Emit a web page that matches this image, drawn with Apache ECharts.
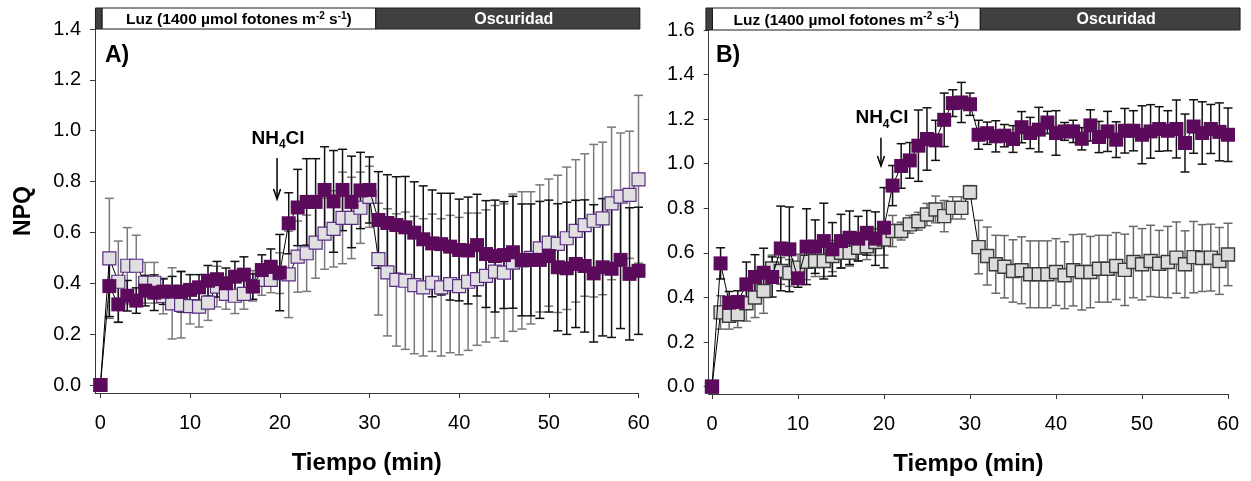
<!DOCTYPE html>
<html>
<head>
<meta charset="utf-8">
<script src="https://cdn.jsdelivr.net/npm/echarts@6/dist/echarts.min.js"></script>
<style>
  html, body { margin: 0; padding: 0; background: #fff; }
  #chart { width: 1251px; height: 481px; }
</style>
</head>
<body>
<div id="chart"></div>
<script>
// Sampling times (min)
const timeMin = [0,1,2,3,4,5,6,7,8,9,10,11,12,13,14,15,16,17,18,19,20,
  21,22,23,24,25,26,27,28,29,30,31,32,33,34,35,36,37,38,39,40,
  41,42,43,44,45,46,47,48,49,50,51,52,53,54,55,56,57,58,59,60];

// Panel A – NPQ (mean) and standard deviation
const npqA_purple = [0, 0.389, 0.317, 0.351, 0.332, 0.371, 0.363, 0.367, 0.367, 0.367, 0.374,
  0.384, 0.41, 0.416, 0.40, 0.426, 0.434, 0.387, 0.452, 0.465, 0.442,
  0.636, 0.698, 0.72, 0.72, 0.767, 0.722, 0.767, 0.72, 0.765, 0.767,
  0.649, 0.637, 0.629, 0.62, 0.599, 0.573, 0.557, 0.554, 0.544, 0.531,
  0.529, 0.55, 0.515, 0.507, 0.511, 0.522, 0.492, 0.492, 0.492, 0.507,
  0.463, 0.459, 0.476, 0.468, 0.439, 0.463, 0.457, 0.492, 0.437, 0.449];
const errA_purple = [0, 0.12, 0.07, 0.06, 0.05, 0.06, 0.07, 0.05, 0.06, 0.08, 0.06,
  0.05, 0.06, 0.07, 0.06, 0.06, 0.07, 0.05, 0.06, 0.07, 0.15,
  0.12, 0.15, 0.17, 0.17, 0.17, 0.2, 0.16, 0.18, 0.15, 0.13,
  0.19, 0.19, 0.19, 0.2, 0.2, 0.21, 0.21, 0.2, 0.21, 0.2,
  0.21, 0.2, 0.21, 0.22, 0.21, 0.22, 0.22, 0.22, 0.23, 0.22,
  0.25, 0.26, 0.25, 0.26, 0.27, 0.27, 0.27, 0.27, 0.26, 0.25];
const npqA_grey = [0, 0.498, 0.406, 0.469, 0.469, 0.402, 0.402, 0.35, 0.321, 0.315, 0.31,
  0.308, 0.324, 0.387, 0.358, 0.351, 0.358, 0.39, 0.413, 0.413, 0.44,
  0.435, 0.505, 0.518, 0.56, 0.595, 0.614, 0.657, 0.657, 0.697, 0.74,
  0.495, 0.443, 0.413, 0.41, 0.393, 0.384, 0.402, 0.384, 0.397, 0.389,
  0.406, 0.416, 0.429, 0.446, 0.442, 0.481, 0.49, 0.5, 0.537, 0.56,
  0.555, 0.577, 0.606, 0.629, 0.646, 0.655, 0.714, 0.741, 0.748, 0.809];
const errA_grey = [0, 0.236, 0.16, 0.15, 0.12, 0.08, 0.08, 0.07, 0.14, 0.13, 0.07,
  0.08, 0.07, 0.08, 0.06, 0.07, 0.06, 0.06, 0.06, 0.05, 0.08,
  0.17, 0.14, 0.15, 0.14, 0.14, 0.15, 0.18, 0.16, 0.14, 0.12,
  0.22, 0.25, 0.26, 0.27, 0.27, 0.27, 0.27, 0.27, 0.27, 0.27,
  0.27, 0.26, 0.26, 0.26, 0.27, 0.27, 0.27, 0.26, 0.25, 0.25,
  0.27, 0.28, 0.28, 0.28, 0.3, 0.3, 0.3, 0.25, 0.25, 0.33];

// Panel B – NPQ (mean) and standard deviation
const npqB_purple = [0, 0.553, 0.377, 0.38, 0.459, 0.492, 0.511, 0.492, 0.62, 0.616, 0.486,
  0.628, 0.628, 0.653, 0.616, 0.653, 0.668, 0.664, 0.69, 0.664, 0.713,
  0.902, 0.99, 1.015, 1.081, 1.111, 1.105, 1.197, 1.272, 1.275, 1.267,
  1.13, 1.137, 1.123, 1.126, 1.111, 1.164, 1.138, 1.153, 1.185, 1.138,
  1.145, 1.145, 1.112, 1.172, 1.12, 1.145, 1.108, 1.148, 1.148, 1.13,
  1.145, 1.156, 1.148, 1.156, 1.093, 1.167, 1.138, 1.156, 1.143, 1.13];
const errB_purple = [0, 0.07, 0.05, 0.05, 0.1, 0.1, 0.11, 0.09, 0.19, 0.19, 0.04,
  0.17, 0.12, 0.17, 0.12, 0.12, 0.12, 0.1, 0.1, 0.12, 0.18,
  0.09, 0.1, 0.08, 0.16, 0.14, 0.09, 0.12, 0.06, 0.09, 0.05,
  0.065, 0.05, 0.07, 0.05, 0.06, 0.07, 0.07, 0.1, 0.05, 0.1,
  0.04, 0.05, 0.05, 0.07, 0.07, 0.09, 0.08, 0.1, 0.09, 0.13,
  0.12, 0.1, 0.09, 0.13, 0.13, 0.12, 0.14, 0.11, 0.13, 0.12];
const npqB_grey = [0, 0.333, 0.318, 0.325, 0.374, 0.40, 0.429, 0.53, 0.519, 0.51, 0.534,
  0.56, 0.564, 0.564, 0.586, 0.601, 0.601, 0.623, 0.63, 0.649, 0.66,
  0.698, 0.698, 0.728, 0.742, 0.772, 0.795, 0.765, 0.802, 0.802, 0.872,
  0.626, 0.586, 0.549, 0.538, 0.519, 0.522, 0.504, 0.504, 0.504, 0.514,
  0.5, 0.522, 0.514, 0.514, 0.529, 0.529, 0.541, 0.524, 0.559, 0.549,
  0.564, 0.551, 0.559, 0.579, 0.549, 0.581, 0.577, 0.579, 0.564, 0.593];
const errB_grey = [0, 0.075, 0.06, 0.06, 0.08, 0.09, 0.1, 0.06, 0.06, 0.06, 0.06,
  0.08, 0.07, 0.07, 0.07, 0.07, 0.06, 0.06, 0.06, 0.06, 0.07,
  0.07, 0.04, 0.04, 0.04, 0.05, 0.06, 0.07, 0.05, 0.05, 0.03,
  0.12, 0.13, 0.13, 0.14, 0.14, 0.15, 0.15, 0.15, 0.15, 0.15,
  0.15, 0.16, 0.17, 0.16, 0.15, 0.15, 0.15, 0.16, 0.16, 0.16,
  0.16, 0.15, 0.16, 0.16, 0.15, 0.16, 0.15, 0.15, 0.15, 0.14];

// Axis ticks
const xTicks = [0, 10, 20, 30, 40, 50, 60];
const yTicksA = [0, 0.2, 0.4, 0.6, 0.8, 1.0, 1.2, 1.4];
const yTicksB = [0, 0.2, 0.4, 0.6, 0.8, 1.0, 1.2, 1.4, 1.6];

// Light / dark periods shown above each panel: [start, end, kind] (min)
const periodsA = [[-0.55, 0.2, 'dark'], [0.2, 30.7, 'light'], [30.7, 60.15, 'dark']];
const periodsB = [[-0.7, 0.06, 'dark'], [0.06, 31.2, 'light'], [31.2, 61.4, 'dark']];

// NH4Cl addition marker: [time, arrow top NPQ, arrow tip NPQ]
const additionA = [19.7, 0.893, 0.731];
const additionB = [19.65, 1.117, 0.99];

const FONT = 'Liberation Sans, Arial, Helvetica, sans-serif';
const PURPLE = '#5c0a5c';
const AXIS = '#3a3a3a';

const chart = echarts.init(document.getElementById('chart'), null, { renderer: 'canvas' });

function pairs(vals) { return timeMin.map((t, i) => [t, vals[i]]); }
function errRows(vals, errs) {
  return timeMin.map((t, i) => [t, vals[i] - errs[i], vals[i] + errs[i]]).filter((r, i) => errs[i] > 0);
}

function errorBarRender(color) {
  return function (params, api) {
    const x = api.value(0), lo = api.value(1), hi = api.value(2);
    const top = api.coord([x, hi]), bot = api.coord([x, lo]);
    const cap = 4.5;
    const style = { stroke: color, lineWidth: 1.5 };
    return {
      type: 'group',
      children: [
        { type: 'line', shape: { x1: top[0], y1: top[1], x2: bot[0], y2: bot[1] }, style },
        { type: 'line', shape: { x1: top[0] - cap, y1: top[1], x2: top[0] + cap, y2: top[1] }, style },
        { type: 'line', shape: { x1: bot[0] - cap, y1: bot[1], x2: bot[0] + cap, y2: bot[1] }, style }
      ]
    };
  };
}

function periodRender(params, api) {
  const s = api.value(0), e = api.value(1), kind = api.value(2);
  const p0 = api.coord([s, 1]), p1 = api.coord([e, 0]);
  const light = kind === 'light';
  const w = p1[0] - p0[0], h = p1[1] - p0[1];
  const children = [{
    type: 'rect',
    shape: { x: p0[0], y: p0[1], width: w, height: h },
    style: { fill: light ? '#ffffff' : '#404040', stroke: '#1a1a1a', lineWidth: 1 }
  }];
  if (w > 40) {
    children.push({
      type: 'text',
      style: {
        x: p0[0] + w / 2 + (light ? 0 : 6), y: p0[1] + h / 2 + 1,
        align: 'center', verticalAlign: 'middle',
        text: light ? '{t|Luz (1400 µmol fotones m}{s|-2}{t| s}{s|-1}{t|)}' : 'Oscuridad',
        fill: light ? '#000' : '#fff',
        font: 'bold 16px ' + FONT,
        rich: {
          t: { fontSize: 15.5, fontWeight: 'bold', fontFamily: FONT, lineHeight: 17, verticalAlign: 'bottom' },
          s: { fontSize: 10, fontWeight: 'bold', fontFamily: FONT, lineHeight: 10, verticalAlign: 'top' }
        }
      }
    });
  }
  return { type: 'group', children };
}

function additionRender(params, api) {
  const t = api.value(0), a = api.value(1), b = api.value(2);
  const p0 = api.coord([t, a]), p1 = api.coord([t, b]);
  const st = { stroke: '#000', lineWidth: 1.5 };
  return {
    type: 'group',
    children: [
      { type: 'line', shape: { x1: p0[0], y1: p0[1], x2: p1[0], y2: p1[1] }, style: st },
      { type: 'polyline', shape: { points: [[p1[0] - 3.5, p1[1] - 10], [p1[0], p1[1]], [p1[0] + 3.5, p1[1] - 10]] }, style: { stroke: '#000', lineWidth: 1.5, fill: null } },
      {
        type: 'text',
        style: {
          x: p0[0] + 1, y: p0[1] - 7,
          align: 'center', verticalAlign: 'bottom',
          text: '{t|NH}{s|4}{t|Cl}',
          fill: '#000',
          rich: {
            t: { fontSize: 19, fontWeight: 'bold', fontFamily: FONT, lineHeight: 22, verticalAlign: 'top' },
            s: { fontSize: 12, fontWeight: 'bold', fontFamily: FONT, lineHeight: 12, verticalAlign: 'bottom' }
          }
        }
      }
    ]
  };
}

function valueX(gridIndex, min, showName) {
  return {
    type: 'value', gridIndex, min, max: 60,
    axisLine: { show: true, onZero: false, lineStyle: { color: AXIS, width: 1 } },
    axisTick: { show: true, inside: false, length: 5, customValues: xTicks, lineStyle: { color: AXIS } },
    axisLabel: { customValues: xTicks, fontSize: 20, color: '#000', fontFamily: FONT, margin: 20 },
    splitLine: { show: false },
    name: showName ? 'Tiempo (min)' : '',
    nameLocation: 'middle', nameGap: 58,
    nameTextStyle: { fontSize: 24, fontWeight: 'bold', color: '#000', fontFamily: FONT }
  };
}

function valueY(gridIndex, min, max, ticks, name) {
  return {
    type: 'value', gridIndex, min, max,
    axisLine: { show: true, onZero: false, lineStyle: { color: AXIS, width: 1 } },
    axisTick: { show: true, inside: false, length: 5, customValues: ticks, lineStyle: { color: AXIS } },
    axisLabel: { customValues: ticks, fontSize: 20, color: '#000', fontFamily: FONT, margin: 14,
      formatter: v => v.toFixed(1) },
    splitLine: { show: false },
    name: name, nameLocation: 'middle', nameRotate: 90, nameGap: 60,
    nameTextStyle: { fontSize: 23, fontWeight: 'bold', color: '#000', fontFamily: FONT }
  };
}

function hiddenX(gridIndex, min) {
  return { type: 'value', gridIndex, min, max: 60, show: false };
}
function hiddenY(gridIndex) {
  return { type: 'value', gridIndex, min: 0, max: 1, show: false };
}

function lineSeries(axisIdx, vals, fill, border, borderW, size, z) {
  return {
    type: 'line', xAxisIndex: axisIdx, yAxisIndex: axisIdx,
    data: pairs(vals), symbol: 'rect', symbolSize: size,
    showAllSymbol: true, animation: false, z,
    lineStyle: { color: '#000', width: 1 },
    itemStyle: { color: fill, borderColor: border, borderWidth: borderW, opacity: 1 },
    emphasis: { disabled: true }
  };
}

function errSeries(axisIdx, vals, errs, color, z) {
  return {
    type: 'custom', xAxisIndex: axisIdx, yAxisIndex: axisIdx,
    data: errRows(vals, errs), renderItem: errorBarRender(color), clip: false, z, animation: false
  };
}

const option = {
  animation: false,
  backgroundColor: '#fff',
  grid: [
    { left: 95, right: 612.5, top: 29, height: 364 },      // panel A
    { left: 708.7, right: 23, top: 30, height: 365 },      // panel B
    { left: 95, right: 612.5, top: 8, height: 21 },        // A light/dark bar
    { left: 708.7, right: 23, top: 8, height: 22 }         // B light/dark bar
  ],
  xAxis: [valueX(0, -0.6, true), valueX(1, -0.38, true), hiddenX(2, -0.6), hiddenX(3, -0.38)],
  yAxis: [valueY(0, -0.0315, 1.4, yTicksA, 'NPQ'), valueY(1, -0.033, 1.6, yTicksB, ''), hiddenY(2), hiddenY(3)],
  graphic: [
    { type: 'text', left: 105, top: 44, style: { text: 'A)', font: 'bold 23px ' + FONT, fill: '#000' } },
    { type: 'text', left: 716, top: 44, style: { text: 'B)', font: 'bold 23px ' + FONT, fill: '#000' } }
  ],
  series: [
    errSeries(0, npqA_grey, errA_grey, '#7a7a7a', 1),
    errSeries(0, npqA_purple, errA_purple, '#111', 2),
    lineSeries(0, npqA_grey, '#e0e0e0', '#5b2d86', 1.2, 13, 3),
    lineSeries(0, npqA_purple, PURPLE, PURPLE, 0, 14, 4),

    errSeries(1, npqB_grey, errB_grey, '#6a6a6a', 1),
    errSeries(1, npqB_purple, errB_purple, '#111', 2),
    lineSeries(1, npqB_grey, '#dcdcdc', '#3a3a3a', 1.4, 13, 3),
    lineSeries(1, npqB_purple, PURPLE, PURPLE, 0, 14, 4),

    { type: 'custom', xAxisIndex: 0, yAxisIndex: 0, data: [additionA], renderItem: additionRender, clip: false, z: 6 },
    { type: 'custom', xAxisIndex: 1, yAxisIndex: 1, data: [additionB], renderItem: additionRender, clip: false, z: 6 },
    { type: 'custom', xAxisIndex: 2, yAxisIndex: 2, data: periodsA, renderItem: periodRender, clip: false, z: 6,
      dimensions: ['s', 'e', { name: 'k', type: 'ordinal' }] },
    { type: 'custom', xAxisIndex: 3, yAxisIndex: 3, data: periodsB, renderItem: periodRender, clip: false, z: 6,
      dimensions: ['s', 'e', { name: 'k', type: 'ordinal' }] }
  ]
};

chart.setOption(option);
</script>
</body>
</html>
